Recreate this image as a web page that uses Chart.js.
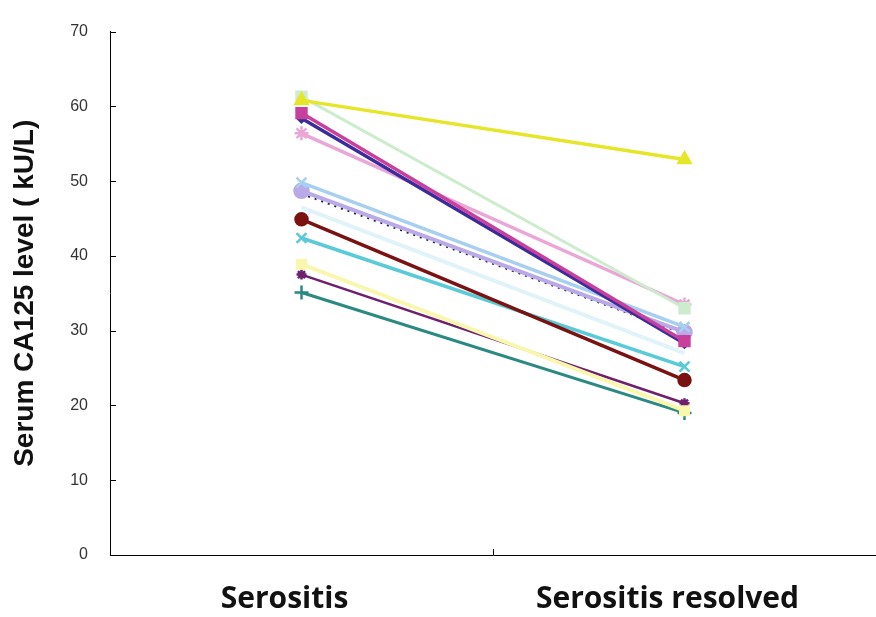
<!DOCTYPE html>
<html lang="en">
<head>
<meta charset="UTF-8">
<title>Serum CA125 level</title>
<script src="https://cdn.jsdelivr.net/npm/chart.js"></script>
<style>
  html, body { margin: 0; padding: 0; background: #fff; }
  #wrap { width: 876px; height: 617px; }
</style>
</head>
<body>
<div id="wrap"><canvas id="ca125Chart"></canvas></div>
<script>
const categories = ['Serositis', 'Serositis resolved'];
const yTicks = [0, 10, 20, 30, 40, 50, 60, 70];

// one entry per patient: value during serositis, value after it resolved
const serositisValues = [60.8, 61.3, 59.1, 58.4, 56.4, 49.8, 48.7, 48.3, 46.5, 44.9, 42.4, 38.9, 37.5, 35.1];
const resolvedValues  = [52.9, 33.0, 28.6, 28.3, 33.5, 30.5, 29.8, 29.6, 27.0, 23.4, 25.2, 19.3, 20.3, 19.0];

const lineColors = ['#e6e628', '#cdeccd', '#c8409c', '#3a2c9c', '#eaa6d6', '#a6cff0', '#b9a9e6',
                    '#1e1e5a', '#e0f3f9', '#7a1212', '#58cad8', '#f9f7ad', '#6e1f6e', '#2a8a82'];
const markers = ['triangle', 'rect', 'rect', 'rectRot', 'star', 'crossRot', 'circle',
                 false, 'circle', 'circle', 'crossRot', 'rect', 'star', 'cross'];
const markerSizes = [7, 7, 7, 4, 7, 7, 7, 0, 0, 6, 7, 6, 5, 7];
const widths = [3.5, 3, 3.5, 3.5, 3.5, 3.5, 4, 2, 4, 3.5, 3.5, 4, 2.5, 3];

const datasets = serositisValues.map((v, i) => ({
  label: 'Patient ' + (i + 1),
  data: [v, resolvedValues[i]],
  borderColor: lineColors[i],
  backgroundColor: lineColors[i],
  borderWidth: widths[i],
  borderDash: i === 7 ? [2, 5] : [],
  pointStyle: markers[i],
  pointRadius: markerSizes[i],
  pointBorderWidth: 2.5,
  pointBorderColor: lineColors[i],
  pointBackgroundColor: lineColors[i],
  order: i === 0 ? 0 : 1
}));

// short ticks drawn inside the plot, like the original figure
const inwardTicks = {
  id: 'inwardTicks',
  afterDraw(chart) {
    const ctx = chart.ctx;
    const y = chart.scales.y;
    const x = chart.scales.x;
    ctx.save();
    ctx.strokeStyle = '#000';
    ctx.lineWidth = 1;
    ctx.beginPath();
    yTicks.forEach(t => {
      const py = Math.round(y.getPixelForValue(t)) + 0.5;
      ctx.moveTo(x.left, py);
      ctx.lineTo(x.left + 6, py);
    });
    // divider between the two categories on the x axis
    const mid = Math.round((x.getPixelForValue(0) + x.getPixelForValue(1)) / 2) + 0.5;
    ctx.moveTo(mid, y.bottom);
    ctx.lineTo(mid, y.bottom - 6);
    ctx.stroke();
    ctx.restore();
  }
};

new Chart(document.getElementById('ca125Chart'), {
  type: 'line',
  data: { labels: categories, datasets: datasets },
  plugins: [inwardTicks],
  options: {
    responsive: true,
    maintainAspectRatio: false,
    animation: false,
    layout: { autoPadding: false, padding: { top: 26, right: 0, bottom: 0, left: 0 } },
    plugins: {
      legend: { display: false },
      tooltip: { enabled: false }
    },
    scales: {
      x: {
        offset: true,
        afterFit(scale) { scale.height = 62; },
        grid: { display: false, drawTicks: false },
        border: { color: '#000', width: 1 },
        ticks: {
          color: '#111',
          padding: 26,
          labelOffset: -17,
          font: { family: '"Open Sans"', size: 30, weight: 'bold' }
        }
      },
      y: {
        min: 0,
        max: 70,
        afterFit(scale) { scale.width = 110; },
        grid: { display: false, drawTicks: false },
        border: { color: '#000', width: 1 },
        ticks: {
          stepSize: 10,
          padding: 22,
          color: '#333',
          font: { family: 'Arial, "Liberation Sans"', size: 16 }
        },
        title: {
          display: true,
          text: 'Serum CA125 level ( kU/L)',
          color: '#111',
          padding: { top: 8, bottom: 4 },
          font: { family: 'Arial, "Liberation Sans"', size: 28, weight: 'bold' }
        }
      }
    }
  }
});
</script>
</body>
</html>
